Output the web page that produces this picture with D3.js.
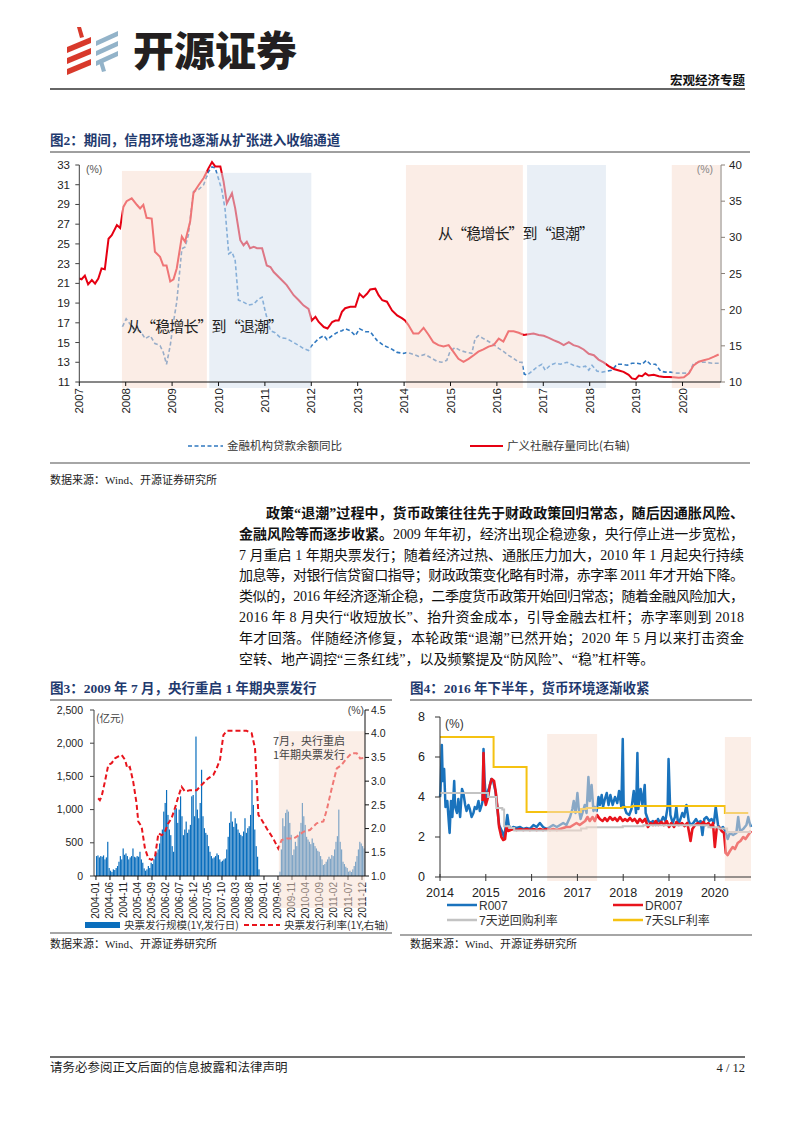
<!DOCTYPE html>
<html><head><meta charset="utf-8">
<script src="https://cdn.jsdelivr.net/npm/d3@7"></script>
<style>body{margin:0;background:#fff}svg{display:block}</style>
</head><body>
<svg id="page" width="800" height="1132"></svg>
<script>
// ---------------- DATA ----------------
// Figure 2: credit environment
const fig2Years = [2007,2008,2009,2010,2011,2012,2013,2014,2015,2016,2017,2018,2019,2020];
const fig2LeftTicks = [11,13,15,17,19,21,23,25,27,29,31,33];
const fig2RightTicks = [10,15,20,25,30,35,40];
const loanYoY = [[2007.93,16.6],[2008.01,17.4],[2008.09,16.9],[2008.20,16.2],[2008.31,16.2],[2008.42,15.4],[2008.53,15.7],[2008.63,14.9],[2008.74,14.7],[2008.81,14.0],[2008.88,12.8],[2008.96,14.7],[2009.03,17.1],[2009.10,19.1],[2009.21,24.5],[2009.28,24.7],[2009.35,25.9],[2009.46,30.3],[2009.57,30.5],[2009.68,31.0],[2009.78,32.3],[2009.86,32.8],[2009.93,32.7],[2010.00,31.6],[2010.07,30.5],[2010.14,28.6],[2010.22,24.0],[2010.29,24.2],[2010.36,23.3],[2010.43,19.3],[2010.54,19.1],[2010.65,18.8],[2010.76,18.9],[2010.86,19.4],[2010.94,19.6],[2011.01,18.1],[2011.12,16.2],[2011.22,16.0],[2011.33,15.5],[2011.47,15.4],[2011.62,15.0],[2011.73,14.7],[2011.83,14.4],[2011.94,14.2],[2012.01,14.7],[2012.16,15.4],[2012.27,15.7],[2012.34,15.3],[2012.45,15.7],[2012.55,16.0],[2012.66,16.2],[2012.73,16.4],[2012.84,16.2],[2012.95,15.7],[2013.04,16.4],[2013.17,16.1],[2013.27,16.1],[2013.42,15.2],[2013.56,14.7],[2013.71,14.4],[2013.85,14.0],[2013.99,13.9],[2014.06,14.0],[2014.20,13.8],[2014.31,13.6],[2014.45,13.8],[2014.60,13.4],[2014.71,13.1],[2014.81,13.0],[2014.92,13.2],[2014.99,14.1],[2015.10,14.5],[2015.21,14.2],[2015.35,14.0],[2015.46,13.9],[2015.53,15.4],[2015.60,15.7],[2015.71,15.4],[2015.82,15.1],[2015.93,14.8],[2016.04,14.4],[2016.14,14.1],[2016.25,13.7],[2016.36,13.4],[2016.47,13.0],[2016.54,13.0],[2016.59,11.8],[2016.65,11.7],[2016.76,12.1],[2016.86,12.5],[2016.97,12.8],[2017.04,12.2],[2017.15,12.7],[2017.26,12.9],[2017.37,12.8],[2017.51,13.0],[2017.65,12.7],[2017.80,12.5],[2017.91,12.6],[2017.98,12.2],[2018.05,12.7],[2018.16,12.1],[2018.27,12.0],[2018.37,12.1],[2018.48,12.2],[2018.59,12.8],[2018.70,12.8],[2018.81,12.7],[2018.91,12.9],[2019.02,12.9],[2019.13,12.8],[2019.22,13.2],[2019.31,12.8],[2019.42,12.8],[2019.53,12.1],[2019.63,12.0],[2019.74,12.0],[2019.88,11.9],[2020.03,11.9],[2020.14,11.9],[2020.24,12.9],[2020.35,13.0],[2020.50,13.0],[2020.64,12.9],[2020.78,12.9]];
const tsfYoY = [[2007.00,24.3],[2007.05,24.2],[2007.12,24.7],[2007.19,23.5],[2007.27,24.1],[2007.34,23.6],[2007.41,24.3],[2007.48,25.7],[2007.55,25.6],[2007.63,29.8],[2007.70,30.3],[2007.81,31.7],[2007.88,31.3],[2007.95,34.2],[2008.02,35.0],[2008.13,35.4],[2008.24,34.5],[2008.31,34.0],[2008.38,34.5],[2008.45,32.7],[2008.56,32.6],[2008.63,28.0],[2008.74,27.3],[2008.81,26.1],[2008.88,26.1],[2008.96,23.9],[2009.03,24.2],[2009.10,25.7],[2009.21,30.1],[2009.28,29.4],[2009.39,32.2],[2009.46,36.1],[2009.57,37.2],[2009.68,38.2],[2009.78,39.5],[2009.86,40.4],[2009.93,39.8],[2010.04,39.8],[2010.11,37.7],[2010.18,34.7],[2010.29,36.1],[2010.36,34.0],[2010.47,29.6],[2010.54,28.9],[2010.61,29.4],[2010.68,28.5],[2010.76,28.7],[2010.83,28.5],[2010.94,28.5],[2011.04,26.1],[2011.12,25.9],[2011.19,25.2],[2011.33,24.3],[2011.47,23.4],[2011.62,22.0],[2011.73,21.3],[2011.83,20.6],[2011.94,20.1],[2012.01,18.5],[2012.09,19.0],[2012.16,18.3],[2012.27,17.6],[2012.35,17.4],[2012.45,18.3],[2012.52,18.5],[2012.59,18.5],[2012.66,19.7],[2012.73,20.2],[2012.84,20.4],[2012.95,20.4],[2013.04,22.2],[2013.12,21.7],[2013.20,22.2],[2013.27,22.8],[2013.38,22.9],[2013.45,22.0],[2013.53,21.3],[2013.63,21.1],[2013.74,19.9],[2013.85,19.2],[2013.96,18.8],[2014.02,18.5],[2014.09,17.9],[2014.20,16.7],[2014.31,16.7],[2014.42,17.5],[2014.53,16.5],[2014.63,15.5],[2014.74,15.1],[2014.85,14.9],[2014.96,15.1],[2015.06,14.2],[2015.17,13.2],[2015.28,12.8],[2015.39,13.2],[2015.50,13.7],[2015.60,14.2],[2015.71,14.5],[2015.82,14.9],[2015.93,15.1],[2016.04,16.0],[2016.14,15.6],[2016.25,17.0],[2016.36,17.0],[2016.47,16.8],[2016.58,16.5],[2016.68,16.6],[2016.79,16.7],[2016.90,16.5],[2017.01,16.4],[2017.12,16.1],[2017.22,15.8],[2017.33,15.5],[2017.44,15.1],[2017.55,15.5],[2017.65,15.1],[2017.76,14.9],[2017.87,14.5],[2017.98,13.9],[2018.09,13.7],[2018.19,13.1],[2018.30,12.7],[2018.41,12.2],[2018.52,11.8],[2018.63,11.6],[2018.73,11.4],[2018.84,11.0],[2018.91,10.5],[2018.99,10.4],[2019.06,10.9],[2019.13,10.8],[2019.20,11.2],[2019.27,10.9],[2019.38,11.0],[2019.49,10.8],[2019.60,10.7],[2019.71,10.7],[2019.81,10.65],[2019.92,10.6],[2020.03,10.65],[2020.14,11.2],[2020.24,12.3],[2020.35,12.8],[2020.46,13.0],[2020.57,13.2],[2020.68,13.5],[2020.78,13.8]];
// shaded periods (start year, end year, kind, top value on left axis)
const fig2Periods = [[2007.92,2009.75,"up",32.4],[2009.80,2012.00,"down",32.2],[2014.04,2016.56,"up",33],[2016.65,2018.35,"down",33],[2019.77,2020.81,"up",33]];
const fig2Legend = ["金融机构贷款余额同比","广义社融存量同比(右轴)"];
const fig2Note = "从“稳增长”到“退潮”";

// Figure 3: 1Y central bank bill issuance (half-month values, 亿元) and rate (%)
const fig3TickLabels = ["2004-01","2004-06","2004-11","2005-04","2005-09","2006-02","2006-07","2006-12","2007-05","2007-10","2008-03","2008-08","2009-01","2009-06","2009-11","2010-04","2010-09","2011-02","2011-07","2011-12"];
const fig3LeftTicks = [0,500,1000,1500,2000,2500];
const fig3RightTicks = [1.0,1.5,2.0,2.5,3.0,3.5,4.0,4.5];
const issue2004 = [300,310,280,300,290,310,250,280,515,120,80,60,100,90,120,150,215,300,250,415,320,340,300,250];
const issue2005 = [280,300,415,290,280,300,290,365,250,200,115,80,100,150,120,200,180,250,315,350,400,490,600,700];
const issue2006 = [970,1100,1295,920,700,615,450,365,1000,1020,800,1000,1200,900,615,700,820,650,700,770,1200,1220,900,2100];
const issue2007 = [1000,870,1100,1600,900,720,650,620,450,365,300,265,280,300,340,315,250,215,230,250,265,400,590,800];
const issue2008 = [970,820,740,870,790,700,650,620,600,670,870,650,720,750,920,1445,1070,700,450,290,100,0,0,0];
const issue2009 = [0,0,0,0,0,0,0,0,0,0,0,65,400,870,750,950,1000,970,800,620,315,400,515,450];
const issue2010 = [600,670,800,1100,900,770,590,550,515,480,565,500,450,415,380,365,300,250,165,180,215,250,290,260];
const issue2011 = [315,300,400,515,600,1000,515,400,215,180,140,120,65,80,60,100,150,215,300,400,515,490,450,415];
const cbbRate = [[0.8,2.64],[1.4,2.60],[2.0,2.67],[3.2,2.99],[4.4,3.34],[5.6,3.38],[6.8,3.48],[8.0,3.52],[9.2,3.55],[10.4,3.45],[11.2,3.27],[12.1,3.30],[13.3,2.99],[14.5,2.53],[15.1,2.15],[16.3,2.04],[17.5,1.58],[18.7,1.37],[19.9,1.34],[21.1,1.41],[22.3,1.90],[23.5,1.86],[24.6,1.93],[25.8,2.11],[27.0,2.22],[28.2,2.43],[29.4,2.67],[30.6,2.88],[31.8,2.78],[33.6,2.81],[36.0,2.81],[37.7,2.92],[38.9,2.99],[40.1,3.06],[41.9,3.13],[43.1,3.27],[44.3,3.45],[45.5,3.97],[46.7,4.06],[49.0,4.06],[51.4,4.06],[53.8,4.06],[55.6,4.01],[56.8,3.69],[58.0,2.29],[59.2,2.18],[61.0,2.00],[63.3,1.79],[65.1,1.58],[66.3,1.76],[68.1,1.79],[70.5,1.79],[71.7,1.83],[74.0,1.93],[76.4,1.97],[78.8,2.11],[81.2,2.15],[82.4,2.39],[84.2,2.85],[86.0,3.27],[87.7,3.34],[89.5,3.48],[91.3,3.59],[93.1,3.59],[94.3,3.48],[95.5,3.49]];
const fig3Period = [65.3, 96.07, 2180];
const fig3Legend = ["央票发行规模(1Y,发行日)","央票发行利率(1Y,右轴)"];

// Figure 4: money market rates
const fig4Years = [2014,2015,2016,2017,2018,2019,2020];
const fig4Ticks = [0,2,4,6,8];
const r007 = [[2014.00,4.0],[2014.01,4.2],[2014.04,6.6],[2014.06,4.8],[2014.09,5.4],[2014.12,3.5],[2014.16,3.8],[2014.19,2.8],[2014.21,2.2],[2014.24,3.8],[2014.27,3.0],[2014.31,4.8],[2014.33,3.5],[2014.37,3.2],[2014.40,3.9],[2014.44,3.0],[2014.48,4.4],[2014.51,4.2],[2014.55,3.6],[2014.58,3.3],[2014.62,3.6],[2014.65,3.4],[2014.69,3.0],[2014.73,3.2],[2014.76,3.5],[2014.80,3.4],[2014.84,3.8],[2014.87,3.3],[2014.91,3.6],[2014.93,3.8],[2014.95,6.4],[2014.97,5.0],[2015.00,3.9],[2015.03,4.2],[2015.08,4.5],[2015.12,4.9],[2015.16,4.8],[2015.21,4.3],[2015.25,3.5],[2015.29,2.6],[2015.35,2.3],[2015.40,2.0],[2015.44,2.6],[2015.47,3.1],[2015.50,2.6],[2015.54,2.4],[2015.60,2.5],[2015.67,2.45],[2015.75,2.5],[2015.82,2.4],[2015.89,2.45],[2015.96,2.4],[2016.04,2.6],[2016.11,2.5],[2016.18,2.7],[2016.25,2.5],[2016.33,2.4],[2016.40,2.5],[2016.47,2.6],[2016.55,2.5],[2016.62,2.6],[2016.69,2.7],[2016.76,2.6],[2016.84,3.0],[2016.89,3.4],[2016.92,3.8],[2016.96,3.2],[2017.00,4.2],[2017.03,3.4],[2017.07,2.9],[2017.11,3.2],[2017.16,3.6],[2017.20,3.2],[2017.24,5.0],[2017.27,3.8],[2017.31,4.6],[2017.35,3.3],[2017.38,3.5],[2017.42,3.3],[2017.46,4.0],[2017.49,3.6],[2017.53,4.1],[2017.56,3.5],[2017.60,3.9],[2017.64,4.2],[2017.68,3.6],[2017.72,4.1],[2017.77,3.6],[2017.82,4.0],[2017.87,3.7],[2017.91,4.3],[2017.96,3.5],[2017.99,6.9],[2018.01,3.6],[2018.07,3.2],[2018.13,3.1],[2018.18,3.4],[2018.23,4.3],[2018.28,3.2],[2018.31,6.2],[2018.33,3.4],[2018.38,4.4],[2018.42,3.6],[2018.47,4.6],[2018.49,3.2],[2018.55,2.8],[2018.60,2.7],[2018.65,2.8],[2018.71,2.6],[2018.76,2.9],[2018.81,2.7],[2018.87,3.0],[2018.92,2.8],[2018.97,3.5],[2018.99,5.9],[2019.03,3.1],[2019.08,2.7],[2019.13,3.0],[2019.16,3.5],[2019.20,2.6],[2019.25,2.9],[2019.29,3.2],[2019.33,3.0],[2019.38,3.6],[2019.43,2.8],[2019.47,2.6],[2019.53,2.7],[2019.59,2.9],[2019.64,2.7],[2019.69,2.8],[2019.73,2.1],[2019.77,2.9],[2019.82,3.0],[2019.88,2.8],[2019.93,2.9],[2019.98,2.7],[2020.02,3.5],[2020.07,2.6],[2020.12,2.4],[2020.18,2.5],[2020.23,2.3],[2020.28,1.9],[2020.33,2.2],[2020.40,2.1],[2020.47,2.2],[2020.51,3.0],[2020.55,2.3],[2020.62,2.4],[2020.69,2.6],[2020.73,3.0],[2020.76,2.7],[2020.79,2.5]];
const dr007 = [[2014.93,3.8],[2014.95,6.2],[2014.97,4.0],[2015.00,3.6],[2015.05,4.0],[2015.09,4.6],[2015.13,4.9],[2015.18,4.8],[2015.22,4.2],[2015.26,3.3],[2015.29,2.5],[2015.34,2.0],[2015.38,1.85],[2015.42,1.9],[2015.45,2.5],[2015.49,2.3],[2015.54,2.35],[2015.60,2.4],[2015.67,2.35],[2015.75,2.4],[2015.82,2.35],[2015.89,2.4],[2015.96,2.35],[2016.04,2.4],[2016.11,2.35],[2016.18,2.4],[2016.25,2.35],[2016.33,2.4],[2016.40,2.35],[2016.47,2.4],[2016.55,2.35],[2016.62,2.4],[2016.69,2.45],[2016.76,2.5],[2016.84,2.5],[2016.91,2.6],[2016.98,2.7],[2017.05,2.6],[2017.11,2.7],[2017.17,2.8],[2017.22,3.0],[2017.27,2.8],[2017.33,3.0],[2017.38,2.8],[2017.43,3.1],[2017.49,2.9],[2017.55,2.8],[2017.60,2.95],[2017.65,2.8],[2017.71,3.0],[2017.77,2.85],[2017.82,2.95],[2017.87,2.8],[2017.93,3.0],[2017.99,2.8],[2018.04,2.9],[2018.09,2.8],[2018.15,2.95],[2018.20,2.8],[2018.25,2.9],[2018.31,2.7],[2018.36,2.9],[2018.42,2.75],[2018.48,2.9],[2018.54,2.5],[2018.60,2.7],[2018.65,2.6],[2018.71,2.8],[2018.77,2.6],[2018.83,2.75],[2018.89,2.6],[2018.95,2.8],[2019.00,2.5],[2019.05,2.7],[2019.11,2.5],[2019.16,2.75],[2019.22,2.6],[2019.28,2.7],[2019.34,2.55],[2019.40,2.7],[2019.44,2.2],[2019.47,1.8],[2019.51,2.4],[2019.57,2.6],[2019.63,2.7],[2019.69,2.6],[2019.75,2.75],[2019.80,2.6],[2019.86,2.7],[2019.92,2.5],[2019.96,2.7],[2020.00,1.5],[2020.04,2.4],[2020.09,2.5],[2020.15,2.3],[2020.20,2.2],[2020.24,1.2],[2020.28,1.1],[2020.33,1.3],[2020.39,1.5],[2020.44,1.4],[2020.50,1.7],[2020.56,1.8],[2020.62,2.0],[2020.67,1.9],[2020.73,2.1],[2020.79,2.3]];
const reverseRepo7d = [[2014.00,4.2],[2015.05,4.0],[2015.23,3.45],[2015.36,3.37],[2015.40,2.54],[2015.52,2.45],[2015.62,2.32],[2017.08,2.42],[2017.20,2.49],[2017.99,2.54],[2018.44,2.59],[2019.86,2.49],[2020.08,2.42],[2020.27,2.25],[2020.79,2.25]];
const slf7d = [[2014.00,7.0],[2015.17,5.5],[2015.89,3.25],[2017.08,3.4],[2017.20,3.45],[2017.99,3.5],[2018.20,3.55],[2020.22,3.2],[2020.73,3.2]];
const fig4Periods = [[2016.34,2017.43,7.15],[2020.22,2020.79,7.0]];
const fig4Legend = ["R007","DR007","7天逆回购利率","7天SLF利率"];

// ---------------- STYLE ----------------
const CJK = '"Noto Sans CJK SC", sans-serif';
const SANS = '"Liberation Sans", Arial, "Noto Sans CJK SC", sans-serif';
const SERIF = '"Liberation Serif", "Noto Sans CJK SC", serif';
const PINK = "rgb(247,221,207)", BLUEBAND = "rgb(213,224,238)", BANDOP = 0.53;
const TITLE = "#1f3a6e";
const svg = d3.select("#page");

// ---------------- HEADER ----------------
const logo = svg.append("g");
const red = "#d8392b", lblue = "#93b3c9";
[[0],[1],[2]].forEach(([i])=>{
  logo.append("path").attr("fill",red).attr("d",`M67,${47+i*11} L91,${37+i*11} L91,${43+i*11} L67,${53+i*11} Z`);
  logo.append("path").attr("fill",lblue).attr("d",`M96,${41+i*10} L118,${31+i*10} L118,${36+i*10} L96,${46+i*10} Z`);
});
logo.append("path").attr("fill",red).attr("d","M77,27 L81,27 L84,37 L80,38 Z");
logo.append("path").attr("fill",lblue).attr("d","M99,62 L103,61 L106,71 L102,72 Z");
svg.append("text").attr("x",133).attr("y",66).attr("font-family",CJK).attr("font-weight",900).attr("font-size",41).attr("fill","#231f20").text("开源证券");
svg.append("text").attr("x",745).attr("y",85).attr("text-anchor","end").attr("font-family",CJK).attr("font-weight",700).attr("font-size",12.5).attr("fill","#111").text("宏观经济专题");
svg.append("line").attr("x1",50).attr("x2",745).attr("y1",89).attr("y2",89).attr("stroke","#333").attr("stroke-width",1.5);

function title(x,y,txt,x2){
  svg.append("text").attr("x",x).attr("y",y).attr("font-family",SERIF).attr("font-weight",700).attr("font-size",13.5).attr("fill",TITLE).text(txt);
  svg.append("line").attr("x1",x).attr("x2",x2).attr("y1",y+7).attr("y2",y+7).attr("stroke","#404040").attr("stroke-width",1);
}
function source(x,y){
  svg.append("text").attr("x",x).attr("y",y).attr("font-family",SERIF).attr("font-size",11).attr("fill","#222").text("数据来源：Wind、开源证券研究所");
}

// ---------------- FIGURE 2 ----------------
title(50,145,"图2：期间，信用环境也逐渐从扩张进入收缩通道",750);
{
  const g = svg.append("g");
  const x = d3.scaleLinear().domain([2007,2020.83]).range([79.3,721]);
  const yL = d3.scaleLinear().domain([11,33]).range([382,165]);
  const yR = d3.scaleLinear().domain([10,40]).range([382,165]);
  g.append("path").datum(loanYoY).attr("fill","none").attr("stroke","#2f78c0").attr("stroke-width",1.6).attr("stroke-dasharray","4,2.5")
    .attr("d",d3.line().x(d=>x(d[0])).y(d=>yL(d[1])));
  g.append("path").datum(tsfYoY).attr("fill","none").attr("stroke","#e60012").attr("stroke-width",2)
    .attr("d",d3.line().x(d=>x(d[0])).y(d=>yR(d[1])));
  fig2Periods.forEach(p=>{
    g.append("rect").attr("x",x(p[0])).attr("width",x(p[1])-x(p[0])).attr("y",yL(p[3])).attr("height",yL(11)+6-yL(p[3]))
      .attr("fill",p[2]==="up"?PINK:BLUEBAND).attr("opacity",BANDOP);
  });
  g.append("line").attr("x1",x(2007)).attr("x2",x(2007)).attr("y1",yL(33)).attr("y2",yL(11)).attr("stroke","#404040");
  g.append("line").attr("x1",721).attr("x2",721).attr("y1",yR(40)).attr("y2",yR(10)).attr("stroke","#8a8078");
  g.append("line").attr("x1",x(2007)).attr("x2",721).attr("y1",yL(11)).attr("y2",yL(11)).attr("stroke","#111");
  fig2LeftTicks.forEach(v=>{
    g.append("line").attr("x1",x(2007)-4).attr("x2",x(2007)).attr("y1",yL(v)).attr("y2",yL(v)).attr("stroke","#404040");
    g.append("text").attr("x",70).attr("y",yL(v)).attr("dy","0.35em").attr("text-anchor","end").attr("font-family",SANS).attr("font-size",11.5).attr("fill","#222").text(v);
  });
  fig2RightTicks.forEach(v=>{
    g.append("line").attr("x1",721).attr("x2",725).attr("y1",yR(v)).attr("y2",yR(v)).attr("stroke","#8a8078");
    g.append("text").attr("x",729).attr("y",yR(v)).attr("dy","0.35em").attr("font-family",SANS).attr("font-size",11.5).attr("fill","#222").text(v);
  });
  fig2Years.forEach(v=>{
    g.append("line").attr("x1",x(v)).attr("x2",x(v)).attr("y1",382).attr("y2",386).attr("stroke","#111");
    g.append("text").attr("transform",`translate(${x(v)},388) rotate(-90)`).attr("dy","0.35em").attr("text-anchor","end").attr("font-family",SANS).attr("font-size",11.5).attr("fill","#222").text(v);
  });
  g.append("text").attr("x",86).attr("y",173).attr("font-family",SANS).attr("font-size",10.5).attr("fill","#555").text("(%)");
  g.append("text").attr("x",713).attr("y",173).attr("text-anchor","end").attr("font-family",SANS).attr("font-size",10.5).attr("fill","#888").text("(%)");
  g.append("text").attr("x",127).attr("y",yL(16.6)+5).attr("font-family",CJK).attr("font-size",15).attr("fill","#222").attr("textLength",156).attr("lengthAdjust","spacing").text(fig2Note);
  g.append("text").attr("x",438).attr("y",yL(26)+5).attr("font-family",CJK).attr("font-size",15).attr("fill","#222").attr("textLength",156).attr("lengthAdjust","spacing").text(fig2Note);
  g.append("line").attr("x1",188).attr("x2",223).attr("y1",446).attr("y2",446).attr("stroke","#2f78c0").attr("stroke-width",1.6).attr("stroke-dasharray","4,2.5");
  g.append("text").attr("x",227).attr("y",450).attr("font-family",CJK).attr("font-size",11.5).attr("fill","#333").text(fig2Legend[0]);
  g.append("line").attr("x1",470).attr("x2",503).attr("y1",446).attr("y2",446).attr("stroke","#e60012").attr("stroke-width",2);
  g.append("text").attr("x",507).attr("y",450).attr("font-family",CJK).attr("font-size",11.5).attr("fill","#333").text(fig2Legend[1]);
  svg.append("line").attr("x1",50).attr("x2",750).attr("y1",463).attr("y2",463).attr("stroke","#a6a6a6").attr("stroke-width",2);
  source(50,484);
}

// ---------------- BODY TEXT ----------------
{
  const lines = [
    {x:266, segs:[["政策“退潮”过程中，货币政策往往先于财政政策回归常态，随后因通胀风险、",1]], j:true},
    {x:239, segs:[["金融风险等而逐步收紧。",1],["2009 年年初，经济出现企稳迹象，央行停止进一步宽松，",0]], j:true},
    {x:239, segs:[["7 月重启 1 年期央票发行；随着经济过热、通胀压力加大，2010 年 1 月起央行持续",0]], j:true},
    {x:239, segs:[["加息等，对银行信贷窗口指导；财政政策变化略有时滞，赤字率 2011 年才开始下降。",0]], j:true},
    {x:239, segs:[["类似的，2016 年经济逐渐企稳，二季度货币政策开始回归常态；随着金融风险加大，",0]], j:true},
    {x:239, segs:[["2016 年 8 月央行“收短放长”、抬升资金成本，引导金融去杠杆；赤字率则到 2018",0]], j:true},
    {x:239, segs:[["年才回落。伴随经济修复，本轮政策“退潮”已然开始；2020 年 5 月以来打击资金",0]], j:true},
    {x:239, segs:[["空转、地产调控“三条红线”，以及频繁提及“防风险”、“稳”杠杆等。",0]], j:false}
  ];
  lines.forEach((ln,i)=>{
    const y = 518 + i*20.8;
    let cx = ln.x; let last=null;
    ln.segs.forEach(s=>{
      const t = svg.append("text").attr("x",cx).attr("y",y).attr("font-family",SERIF).attr("font-size",14).attr("font-weight",s[1]?700:400).attr("fill","#111").text(s[0]);
      cx += t.node().getComputedTextLength(); last=t;
    });
    if(ln.j){ const sx=+last.attr("x"); last.attr("textLength",744-sx).attr("lengthAdjust","spacing"); }
  });
}

// ---------------- FIGURE 3 ----------------
title(50,693,"图3：2009 年 7 月，央行重启 1 年期央票发行",392);
{
  const g = svg.append("g");
  const x = d3.scaleLinear().domain([-0.7,96.07]).range([94,365]);
  const yL = d3.scaleLinear().domain([0,2500]).range([876,710]);
  const yR = d3.scaleLinear().domain([1.0,4.5]).range([876,710]);
  const years = [issue2004,issue2005,issue2006,issue2007,issue2008,issue2009,issue2010,issue2011];
  const bars = [];
  years.forEach((arr,yi)=>arr.forEach((v,h)=>{ if(v>0) bars.push([yi*12+h/2, v]); }));
  const bw = (x(1)-x(0))/2 - 0.2;
  g.selectAll(".bar").data(bars).enter().append("rect").attr("x",d=>x(d[0])).attr("width",bw).attr("y",d=>yL(d[1])).attr("height",d=>yL(0)-yL(d[1])).attr("fill","#0a6ebd");
  g.append("path").datum(cbbRate).attr("fill","none").attr("stroke","#e8141c").attr("stroke-width",2).attr("stroke-dasharray","5,3")
    .attr("d",d3.line().x(d=>x(d[0])).y(d=>yR(d[1])));
  const monthIdx = s => (+s.slice(0,4)-2004)*12 + (+s.slice(5,7)-1);
  fig3TickLabels.forEach(s=>{
    g.append("line").attr("x1",x(monthIdx(s))).attr("x2",x(monthIdx(s))).attr("y1",876).attr("y2",880).attr("stroke","#111");
    g.append("text").attr("transform",`translate(${x(monthIdx(s))},882) rotate(-90)`).attr("dy","0.35em").attr("text-anchor","end").attr("font-family",SANS).attr("font-size",10).attr("fill","#222").text(s);
  });
  g.append("rect").attr("x",x(fig3Period[0])).attr("width",x(fig3Period[1])-x(fig3Period[0])).attr("y",yL(fig3Period[2])).attr("height",yL(0)+32-yL(fig3Period[2])).attr("fill",PINK).attr("opacity",0.5);
  g.append("line").attr("x1",94).attr("x2",94).attr("y1",710).attr("y2",876).attr("stroke","#404040");
  g.append("line").attr("x1",365).attr("x2",365).attr("y1",710).attr("y2",876).attr("stroke","#111");
  g.append("line").attr("x1",94).attr("x2",365).attr("y1",876).attr("y2",876).attr("stroke","#111");
  fig3LeftTicks.forEach(v=>{
    g.append("line").attr("x1",90).attr("x2",94).attr("y1",yL(v)).attr("y2",yL(v)).attr("stroke","#404040");
    g.append("text").attr("x",83).attr("y",yL(v)).attr("dy","0.35em").attr("text-anchor","end").attr("font-family",SANS).attr("font-size",10.5).attr("fill","#222").text(d3.format(",")(v));
  });
  fig3RightTicks.forEach(v=>{
    g.append("line").attr("x1",365).attr("x2",369).attr("y1",yR(v)).attr("y2",yR(v)).attr("stroke","#111");
    g.append("text").attr("x",371).attr("y",yR(v)).attr("dy","0.35em").attr("font-family",SANS).attr("font-size",10.5).attr("fill","#222").text(d3.format(".1f")(v));
  });
  g.append("text").attr("x",96).attr("y",722).attr("font-family",CJK).attr("font-size",10.5).attr("fill","#444").text("(亿元)");
  g.append("text").attr("x",364).attr("y",714).attr("text-anchor","end").attr("font-family",SANS).attr("font-size",10.5).attr("fill","#444").text("(%)");
  g.append("text").attr("x",273).attr("y",745).attr("font-family",CJK).attr("font-size",11).attr("fill","#444").text("7月，央行重启");
  g.append("text").attr("x",273).attr("y",759).attr("font-family",CJK).attr("font-size",11).attr("fill","#444").text("1年期央票发行");
  g.append("rect").attr("x",85).attr("y",922).attr("width",35).attr("height",6).attr("fill","#0a6ebd");
  g.append("text").attr("x",124).attr("y",929).attr("font-family",CJK).attr("font-size",10.5).attr("fill","#333").text(fig3Legend[0]);
  g.append("line").attr("x1",244).attr("x2",280).attr("y1",925).attr("y2",925).attr("stroke","#e8141c").attr("stroke-width",2).attr("stroke-dasharray","5,3");
  g.append("text").attr("x",284).attr("y",929).attr("font-family",CJK).attr("font-size",10.5).attr("fill","#333").text(fig3Legend[1]);
  svg.append("line").attr("x1",50).attr("x2",392).attr("y1",933).attr("y2",933).attr("stroke","#a6a6a6").attr("stroke-width",2);
  source(50,948);
}

// ---------------- FIGURE 4 ----------------
title(410,693,"图4：2016 年下半年，货币环境逐渐收紧",752);
{
  const g = svg.append("g");
  const x = d3.scaleLinear().domain([2014,2020.79]).range([440,751]);
  const y = d3.scaleLinear().domain([0,8]).range([877,717]);
  const ln = d3.line().x(d=>x(d[0])).y(d=>y(d[1]));
  const st = d3.line().x(d=>x(d[0])).y(d=>y(d[1])).curve(d3.curveStepAfter);
  g.append("path").datum(r007).attr("fill","none").attr("stroke","#1a73bd").attr("stroke-width",2.5).attr("stroke-linejoin","round").attr("d",ln);
  g.append("path").datum(dr007).attr("fill","none").attr("stroke","#e8141c").attr("stroke-width",2.6).attr("stroke-linejoin","round").attr("d",ln);
  g.append("path").datum(reverseRepo7d).attr("fill","none").attr("stroke","#c3c3c3").attr("stroke-width",2).attr("d",st);
  g.append("path").datum(slf7d).attr("fill","none").attr("stroke","#f5c211").attr("stroke-width",2).attr("d",st);
  fig4Periods.forEach(p=>{
    g.append("rect").attr("x",x(p[0])).attr("width",x(p[1])-x(p[0])).attr("y",y(p[2])).attr("height",y(0)+4-y(p[2])).attr("fill",PINK).attr("opacity",0.5);
  });
  g.append("line").attr("x1",440).attr("x2",440).attr("y1",717).attr("y2",877).attr("stroke","#333");
  g.append("line").attr("x1",440).attr("x2",751).attr("y1",877).attr("y2",877).attr("stroke","#333");
  fig4Ticks.forEach(v=>{
    g.append("line").attr("x1",435).attr("x2",440).attr("y1",y(v)).attr("y2",y(v)).attr("stroke","#333");
    g.append("text").attr("x",425).attr("y",y(v)).attr("dy","0.35em").attr("text-anchor","end").attr("font-family",SANS).attr("font-size",12.5).attr("fill","#222").text(v);
  });
  fig4Years.forEach(v=>{
    g.append("line").attr("x1",x(v)).attr("x2",x(v)).attr("y1",874).attr("y2",881).attr("stroke","#333");
    g.append("text").attr("x",x(v)).attr("y",897).attr("text-anchor","middle").attr("font-family",SANS).attr("font-size",12.5).attr("fill","#222").text(v);
  });
  g.append("text").attr("x",445).attr("y",728).attr("font-family",SANS).attr("font-size",12).attr("fill","#333").text("(%)");
  const cols = ["#1a73bd","#e8141c","#c3c3c3","#f5c211"];
  fig4Legend.forEach((s,i)=>{
    const lx = i%2===0 ? 447 : 613, ly = i<2 ? 905 : 920;
    g.append("line").attr("x1",lx).attr("x2",lx+30).attr("y1",ly).attr("y2",ly).attr("stroke",cols[i]).attr("stroke-width",2.5);
    g.append("text").attr("x",lx+32).attr("y",ly+4.5).attr("font-family",SANS).attr("font-size",12).attr("fill","#333").text(s);
  });
  svg.append("line").attr("x1",400).attr("x2",752).attr("y1",935).attr("y2",935).attr("stroke","#a6a6a6").attr("stroke-width",2);
  source(410,948);
}

// ---------------- FOOTER ----------------
svg.append("line").attr("x1",50).attr("x2",745).attr("y1",1057).attr("y2",1057).attr("stroke","#404040").attr("stroke-width",1.5);
svg.append("text").attr("x",50).attr("y",1072).attr("font-family",SERIF).attr("font-size",12.5).attr("fill","#222").text("请务必参阅正文后面的信息披露和法律声明");
svg.append("text").attr("x",745).attr("y",1072).attr("text-anchor","end").attr("font-family",SERIF).attr("font-size",12.5).attr("fill","#222").text("4 / 12");
</script>
</body></html>
